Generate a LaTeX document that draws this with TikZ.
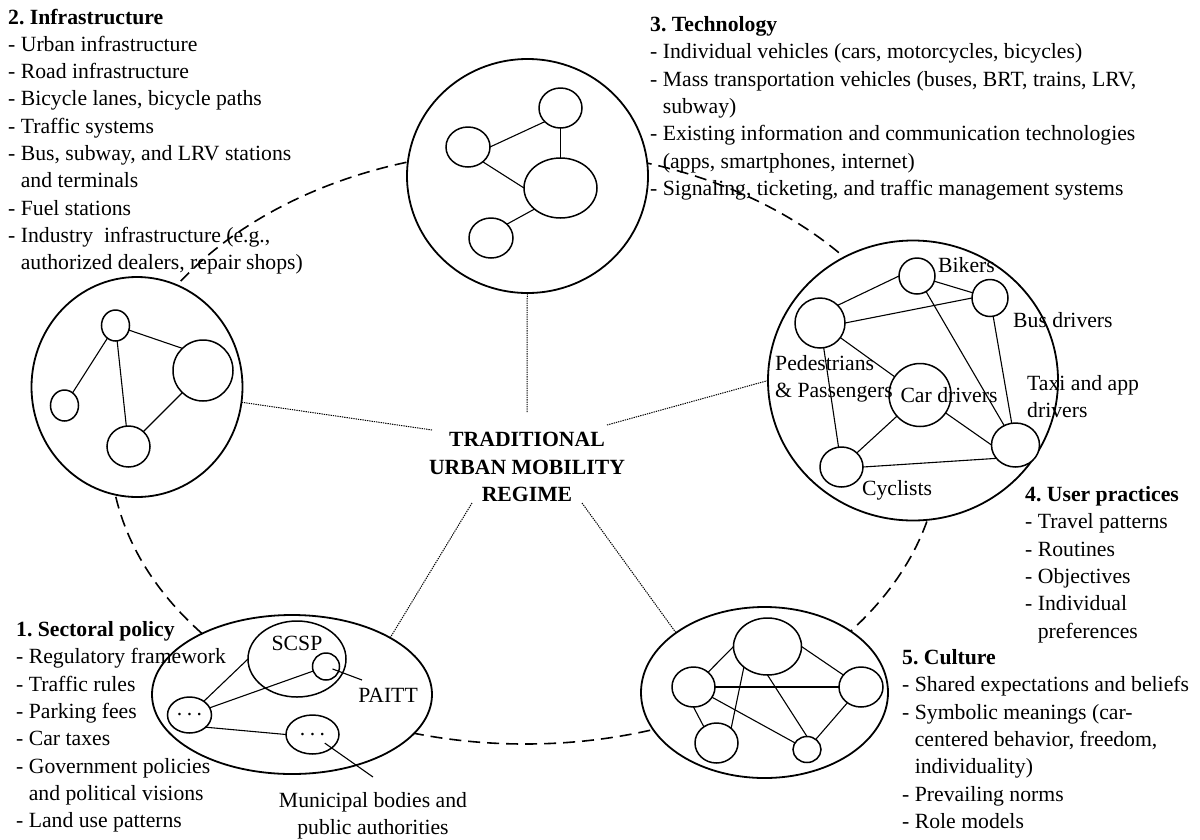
\documentclass[tikz,border=0pt]{standalone}
\usepackage{fontspec}
\setmainfont{Liberation Serif}
\usetikzlibrary{shapes.geometric}

\newcommand\bodysize{\fontsize{21.7}{27.3}\selectfont}
\newcommand\itm{-\ }
\newcommand\cnt{\hphantom{-\ }}
\newcommand\threedots{.\kern4.5pt.\kern4.5pt.}
\frenchspacing

\tikzset{
  ring/.style 2 args={ellipse, draw, fill=white, line width=1.8pt, inner sep=0pt,
    outer sep=0pt, minimum width=#1pt, minimum height=#2pt},
  bub/.style 2 args={ellipse, draw, fill=white, line width=1.5pt, inner sep=0pt,
    outer sep=0pt, minimum width=#1pt, minimum height=#2pt},
  tie/.style={line width=1.1pt},
  spoke/.style={line width=1pt, dash pattern=on 1.3pt off 1pt},
  orbit/.style={line width=1.6pt, dash pattern=on 12pt off 7pt},
  lbl/.style={inner sep=0pt},
  block/.style={anchor=base west, inner sep=0pt},
}

\begin{document}
\begin{tikzpicture}[x=1pt, y=-1pt, font=\bodysize]
\useasboundingbox (0,0) rectangle (1200,839);

% dashed orbit linking the five sub-systems
\draw[orbit] (525,447) ellipse [x radius=415, y radius=297];

% central label
\node[lbl, font=\bodysize\bfseries, align=center] (regime) at (527,467)
  {TRADITIONAL\\URBAN MOBILITY\\REGIME};

\coordinate (hub-tech)    at (527,412);
\coordinate (hub-infra)   at (432,430);
\coordinate (hub-user)    at (607,425);
\coordinate (hub-policy)  at (472,503);
\coordinate (hub-culture) at (582,503);

% the five sub-system rings
\node[ring={241}{234}] (tech)    at (527.5,176)   {};
\node[ring={211}{220}] (infra)   at (137,387)     {};
\node[ring={290}{280}] (user)    at (913,380.5)   {};
\node[ring={280}{159}] (policy)  at (292,694.5)   {};
\node[ring={247}{171}] (culture) at (764.5,692.5) {};

% dotted spokes to the regime
\draw[spoke] (hub-tech)    -- (tech);
\draw[spoke] (hub-infra)   -- (infra);
\draw[spoke] (hub-user)    -- (user.west);
\draw[spoke] (hub-policy)  -- (policy.30);
\draw[spoke] (hub-culture) -- (culture.146);

% --- infrastructure network
\node[bub={28}{31}] (i-top)  at (115.5,325.5) {};
\node[bub={60}{61}] (i-big)  at (203,370.5)   {};
\node[bub={28}{31}] (i-left) at (64.5,405.5)  {};
\node[bub={43}{41}] (i-bot)  at (128.5,446.5) {};
\draw[tie] (i-top) -- (i-left);
\draw[tie] (i-top) -- (i-bot);
\draw[tie] (i-top) -- (i-big.133);
\draw[tie] (i-big.227) -- (i-bot);

% --- technology network
\node[bub={43}{40}] (t-top)  at (560.5,108) {};
\node[bub={44}{40}] (t-left) at (468,147)   {};
\node[bub={73}{60}] (t-big)  at (560.5,188) {};
\node[bub={44}{40}] (t-low)  at (491,238)   {};
\draw[tie] (t-left.east) -- (t-top.221);
\draw[tie] (t-top) -- (t-big);
\draw[tie] (t-left.-45) -- (t-big.west);
\draw[tie] (t-big.219) -- (t-low.41);

% --- user practices network
\node[bub={36}{36}] (u-bike) at (917,276)    {};
\node[bub={36}{37}] (u-bus)  at (990,298)    {};
\node[bub={50}{50}] (u-ped)  at (820,323)    {};
\node[bub={62}{63}] (u-car)  at (920,395)    {};
\node[bub={48}{44}] (u-taxi) at (1015.5,445) {};
\node[bub={43}{40}] (u-cyc)  at (841.5,467)  {};
\draw[tie] (u-ped.45) -- (u-bike.west);
\draw[tie] (u-ped.east) -- (u-bus.west);
\draw[tie] (u-bike) -- (u-bus);
\draw[tie] (u-bike) -- (u-taxi);
\draw[tie] (u-bus) -- (u-taxi);
\draw[tie] (u-ped) -- (u-car);
\draw[tie] (u-ped) -- (u-cyc);
\draw[tie] (u-car) -- (u-cyc);
\draw[tie] (u-car) -- (u-taxi.west);
\draw[tie] (u-cyc.east) -- (u-taxi.215);

\node[lbl, anchor=west] (l-bike) at (938,265)  {Bikers};
\node[lbl, anchor=west] (l-bus)  at (1013,320) {Bus drivers};
\node[block] (l-ped) at (775,370)
  {\begin{tabular}[t]{@{}l@{}}Pedestrians\\\& Passengers\end{tabular}};
\node[lbl] (l-car) at (949,395) {Car drivers};
\node[block] (l-taxi) at (1027,390)
  {\begin{tabular}[t]{@{}l@{}}Taxi and app\\drivers\end{tabular}};
\node[lbl, anchor=base] (l-cyc) at (897,495) {Cyclists};

% --- sectoral policy network
\node[bub={98}{76}] (scsp)  at (297,659)     {};
\node[bub={27}{27}] (paitt) at (326,666.5)   {};
\node[bub={44}{36}] (dots1) at (189.5,715)   {\threedots};
\node[bub={53}{39}] (dots2) at (312.5,734.5) {\threedots};
\draw[tie] (dots1) -- (scsp.west);
\draw[tie] (dots1) -- (paitt);
\draw[tie] (dots1.-37) -- (dots2.west);

\node[lbl] (l-scsp)  at (297,643) {SCSP};
\node[lbl] (l-paitt) at (388,695) {PAITT};
\node[lbl, anchor=base] (l-muni) at (373,807)
  {\begin{tabular}[t]{@{}c@{}}Municipal bodies and\\public authorities\end{tabular}};
\coordinate (paitt-tip) at (362,680);
\coordinate (muni-tip)  at (373,777);
\draw[tie, shorten <=7pt]  (paitt.center) -- (paitt-tip);
\draw[tie, shorten <=15pt] (dots2.center) -- (muni-tip);

% --- culture network
\node[bub={68}{57}] (c-top)   at (767.5,646.5) {};
\node[bub={43}{40}] (c-left)  at (693.5,687)   {};
\node[bub={44}{40}] (c-right) at (861,687)     {};
\node[bub={43}{40}] (c-bl)    at (716.5,743)   {};
\node[bub={28}{26}] (c-br)    at (807,749.5)   {};
\draw[tie] (c-left) -- (c-top.west);
\draw[tie] (c-top.east) -- (c-right);
\draw[tie] (c-left) -- (c-right);
\draw[tie] (c-top.221) -- (c-bl.45);
\draw[tie] (c-left.south) -- (c-bl.128);
\draw[tie] (c-left) -- (c-br);
\draw[tie] (c-top.south) -- (c-br.north);
\draw[tie] (c-right) -- (c-br);

% --- descriptive lists
\node[block] (txt-infra) at (8,24) {\begin{tabular}[t]{@{}l@{}}
\textbf{2. Infrastructure}\\
\itm Urban infrastructure\\
\itm Road infrastructure\\
\itm Bicycle lanes, bicycle paths\\
\itm Traffic systems\\
\itm Bus, subway, and LRV stations\\
\cnt and terminals\\
\itm Fuel stations\\
\itm Industry~~infrastructure (e.g.,\\
\cnt authorized dealers, repair shops)
\end{tabular}};

\node[block] (txt-tech) at (650,31.5) {\begin{tabular}[t]{@{}l@{}}
\textbf{3. Technology}\\
\itm Individual vehicles (cars, motorcycles, bicycles)\\
\itm Mass transportation vehicles (buses, BRT, trains, LRV,\\
\cnt subway)\\
\itm Existing information and communication technologies\\
\cnt (apps, smartphones, internet)\\
\itm Signaling, ticketing, and traffic management systems
\end{tabular}};

\node[block] (txt-user) at (1025,501.5) {\begin{tabular}[t]{@{}l@{}}
\textbf{4. User practices}\\
\itm Travel patterns\\
\itm Routines\\
\itm Objectives\\
\itm Individual\\
\cnt preferences
\end{tabular}};

\node[block] (txt-culture) at (902,664.5) {\begin{tabular}[t]{@{}l@{}}
\textbf{5. Culture}\\
\itm Shared expectations and beliefs\\
\itm Symbolic meanings (car-\\
\cnt centered behavior, freedom,\\
\cnt individuality)\\
\itm Prevailing norms\\
\itm Role models
\end{tabular}};

\node[block] (txt-policy) at (16,636.5) {\begin{tabular}[t]{@{}l@{}}
\textbf{1. Sectoral policy}\\
\itm Regulatory framework\\
\itm Traffic rules\\
\itm Parking fees\\
\itm Car taxes\\
\itm Government policies\\
\cnt and political visions\\
\itm Land use patterns
\end{tabular}};
\end{tikzpicture}
\end{document}
